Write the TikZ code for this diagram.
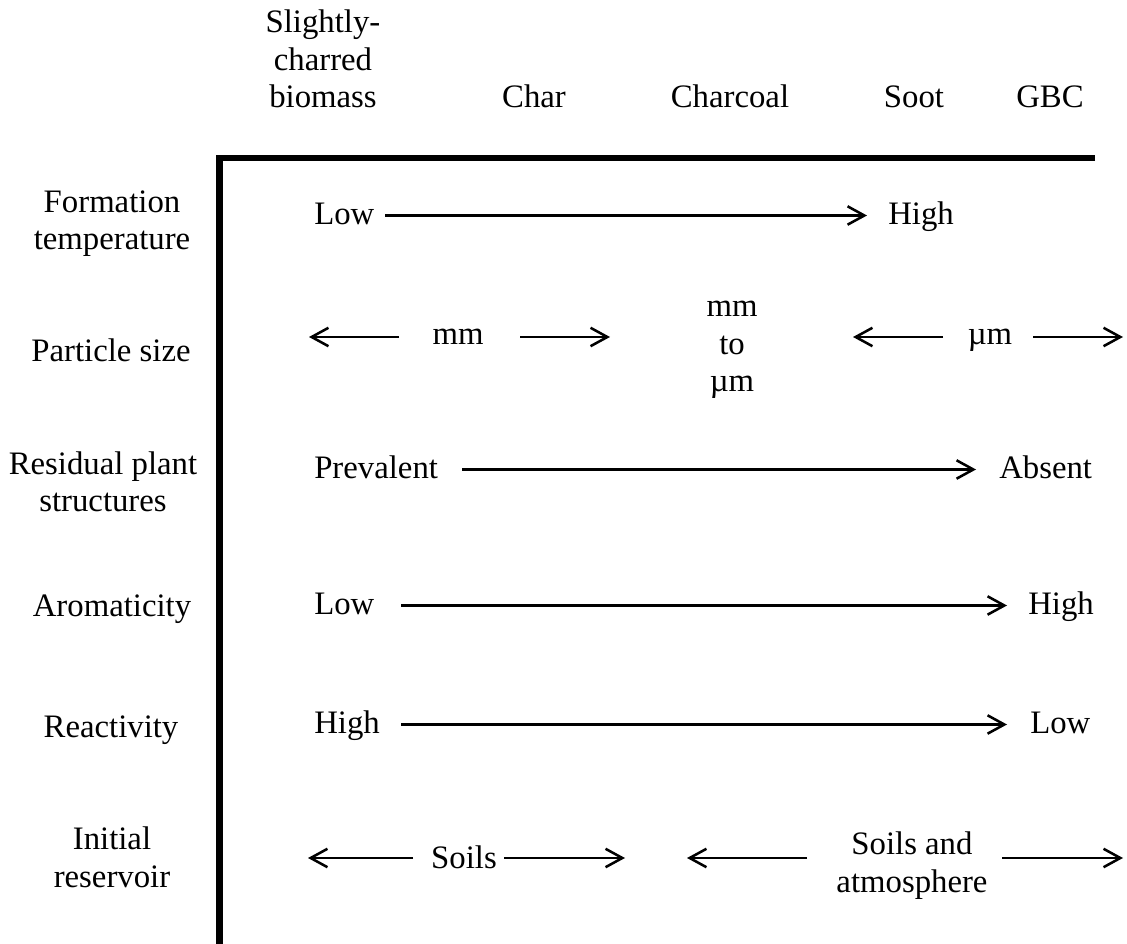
\documentclass[tikz,border=0pt]{standalone}
\usepackage{fontspec}
\setmainfont{Liberation Serif}
\usetikzlibrary{arrows.meta}
\tikzset{
  every picture/.style={x=0.025cm, y=-0.025cm, line width=1.8pt},
  every node/.style={font=\fontsize{23.3}{27}\selectfont, inner sep=0pt},
  lbl/.style={anchor=base, align=center},
  val/.style={anchor=base west},
  frame/.style={line width=4.3pt},
  arr/.style={-{Straight Barb[length=4.2mm, width=4.6mm]}},
}

\begin{document}
\begin{tikzpicture}
  \useasboundingbox (0,0) rectangle (1127,944);
  % column heads
  \node[lbl] (bio) at (323,108) {Slightly-\\charred\\biomass};
  \foreach \n/\x/\t in {char/534/Char, charcoal/730/Charcoal, soot/914/Soot, gbc/1050/GBC}
    \node[lbl] (\n) at (\x,108) {\t};
  \draw[frame] (1095,158) -- (219.5,158) -- (219.5,944);
  % row heads
  \node[lbl] (temp) at (112,250) {Formation\\temperature};
  \node[lbl] (size) at (111,362) {Particle size};
  \node[lbl] (plant) at (103,512) {Residual plant\\structures};
  \node[lbl] (arom) at (112,617) {Aromaticity};
  \node[lbl] (react) at (111,737) {Reactivity};
  \node[lbl] (res) at (112,887) {Initial\\reservoir};
  % low/high trends
  \foreach \n/\y/\a/\b/\xa/\xb/\xr in {1/225/Low/High/385/867/887, 3/479/Prevalent/Absent/462/976/998,
      4/615/Low/High/401/1007/1027, 5/734/High/Low/401/1007/1029} {
    \node[val] (l\n) at (313,\y) {\a};
    \node[val] (r\n) at (\xr,\y) {\b};
    \coordinate (s\n) at (\xa,\y-9.5);
    \coordinate (e\n) at (\xb,\y-9.5);
    \draw[arr] (s\n) -- (e\n);
  }
  % size and reservoir
  \node[lbl] (mm) at (458,345) {mm};
  \node[lbl] (mid) at (732,392) {mm\\to\\µm};
  \node[lbl] (um) at (990,345) {µm};
  \node[lbl] (soil) at (464,868) {Soils};
  \node[lbl] (atm) at (912,892) {Soils and\\atmosphere};
  \foreach \n/\xa/\xb/\y in {p1/399/309/337, p2/520/610/337, p3/943/853/337, p4/1033/1123/337,
      q1/413/308/858, q2/504/625/858, q3/807/687/858, q4/1002/1123/858} {
    \coordinate (\n a) at (\xa,\y);
    \coordinate (\n b) at (\xb,\y);
    \draw[arr] (\n a) -- (\n b);
  }
\end{tikzpicture}
\end{document}
